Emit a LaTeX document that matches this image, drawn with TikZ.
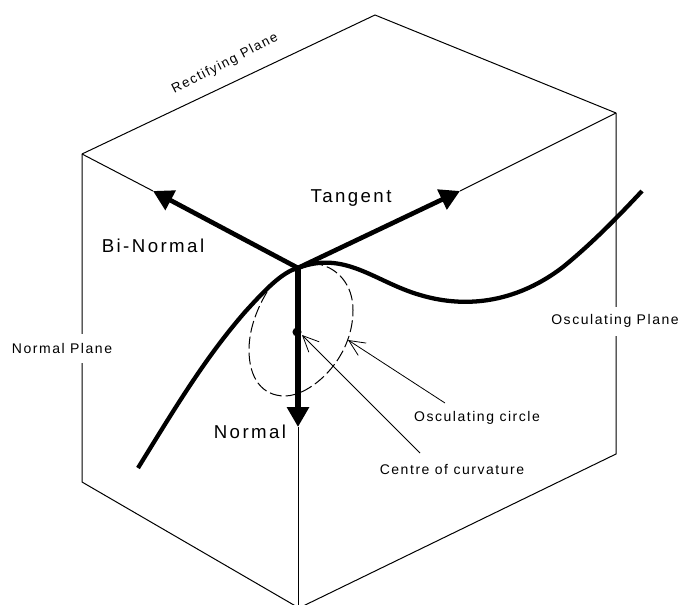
\documentclass[tikz,border=0pt]{standalone}
\usepackage{fontspec}
\setmainfont{Liberation Sans}
\newfontfamily\labelfont[LetterSpace=11]{Liberation Sans}
\newfontfamily\axisfont[LetterSpace=13]{Liberation Sans}
\usetikzlibrary{arrows.meta}
\tikzset{
    edge/.style={line width=0.75pt},
    axis/.style={line width=3.5pt,-{Triangle[length=15pt,width=16pt]}},
    pointer/.style={line width=0.6pt,-{Straight Barb[length=12pt,width=11pt]}},
    small/.style={font=\labelfont\fontsize{10.5}{12}\selectfont,inner sep=1pt},
    big/.style={font=\axisfont\fontsize{14}{16}\selectfont,inner sep=1pt},
    gap/.style={fill=white,minimum height=21.75pt},
}
\begin{document}
\begin{tikzpicture}[x=0.75pt,y=-0.75pt]
        \useasboundingbox (0,0) rectangle (680,605);
        % define point
        \coordinate (Top)  at (375,15);
        \coordinate (L)  at (82,154);
        \coordinate (R)  at (616,113);
        \coordinate (O)  at (298,268);
        \coordinate (LB) at (82,482);
        \coordinate (RB) at (616,454);
        \coordinate (B)  at (299,608);
        \coordinate (BiTip) at (153,191);
        \coordinate (TanTip) at (460,191);
        \coordinate (NorTip) at (298,427);
        \coordinate (NorEnd) at (298,608);
        \coordinate (C) at (297,332);
        \coordinate (CentreTip) at (302,335);
        \coordinate (CirclePt) at (348,340);
        \coordinate (CircleEnd) at (445,403);
        \coordinate (CentreEnd) at (420,453);
        % cube
        \draw[edge] (L) -- (Top) -- (R);
        \draw[edge] (L) -- (BiTip);
        \draw[edge] (R) -- (TanTip);
        \draw[edge] (L) -- (LB) -- (B) -- (RB) -- (R);
        \draw[edge] (NorTip) -- (NorEnd);
        % plane labels
        \node[small,gap] (normalplane) at (62,348) {Normal Plane};
        \node[small,gap] (osculatingplane) at (615,321) {Osculating Plane};
        \node[small,rotate=27,font=\labelfont\fontsize{10}{12}\selectfont] (rectifying) at (225,64) {Rectifying Plane};
        % curve
        \draw[line width=3.2pt] (138,468) .. controls (175,408) and (205,358) .. (245,312)
            .. controls (265,290) and (282,272) .. (298,268)
            .. controls (345,250) and (375,282) .. (420,295)
            .. controls (470,310) and (520,300) .. (563,267)
            .. controls (590,245) and (615,220) .. (642,191);
        % osculating circle
        \draw[line width=0.75pt,dash pattern=on 9pt off 3pt] (267,292)
            .. controls (255,312) and (249,332) .. (249,350)
            .. controls (249,378) and (262,396) .. (285,396)
            .. controls (310,396) and (353,360) .. (353,310)
            .. controls (353,285) and (338,268) .. (318,264);
        % frame vectors
        \draw[axis] (O) -- (BiTip);
        \draw[axis] (O) -- (TanTip);
        \draw[axis,line width=4.5pt] (O) -- (NorTip);
        \fill (C) circle (3.4pt);
        % labels
        \node[big] (tangent) at (351,198) {Tangent};
        \node[big] (binormal) at (153,246) {Bi-Normal};
        \node[big] (normal) at (250,432) {Normal};
        \node[small] (osccircle) at (477,418) {Osculating circle};
        \node[small] (centre) at (452,469) {Centre of curvature};
        \draw[pointer] (CircleEnd) -- (CirclePt);
        \draw[pointer] (CentreEnd) -- (CentreTip);
    \end{tikzpicture}
\end{document}
